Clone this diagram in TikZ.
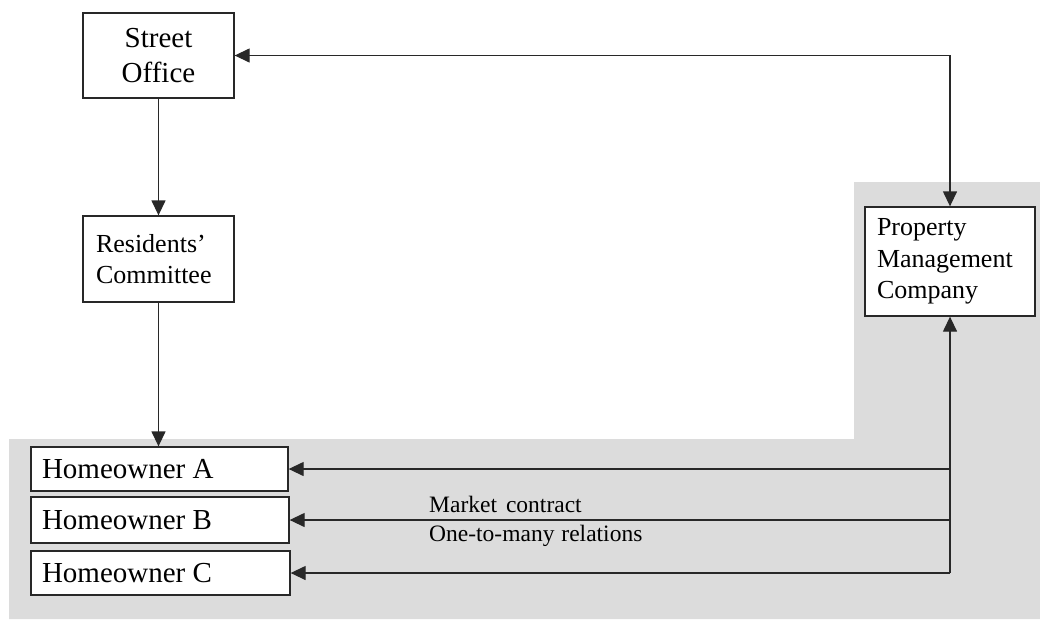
\documentclass[tikz,border=0pt]{standalone}
\usepackage{fontspec}
\setmainfont{Liberation Serif}
\usetikzlibrary{arrows.meta}
\definecolor{bggray}{RGB}{220,220,220}
\definecolor{linecol}{RGB}{40,40,40}
\tikzset{
  box/.style={draw=linecol, line width=1.3pt, fill=white, rectangle, inner ysep=0pt},
  bigtext/.style={font=\fontsize{29}{35}\selectfont},
  midtext/.style={font=\fontsize{26}{31.5}\selectfont},
  labtext/.style={font=\fontsize{23.5}{28}\selectfont, inner sep=0pt},
  conn/.style={draw=linecol, line width=1.3pt, -{Triangle[length=15pt,width=14pt]}},
  conn2/.style={draw=linecol, line width=1.3pt, {Triangle[length=15pt,width=14pt]}-{Triangle[length=15pt,width=14pt]}}
}
\begin{document}
\begin{tikzpicture}[x=1pt,y=-1pt]
\useasboundingbox (0,0) rectangle (1040,619);
% gray background
\fill[bggray] (9,439) -- (854,439) -- (854,182) -- (1040,182) -- (1040,619) -- (9,619) -- cycle;
% nodes
\node[box, bigtext, minimum width=151pt, minimum height=85pt, align=center] (SO) at (158.5,55.5) {Street\\Office};
\node[box, midtext, minimum width=151pt, minimum height=86pt, inner xsep=13pt, text width=125pt, align=flush left] (RC) at (158.5,259) {Residents'\\Committee};
\node[box, midtext, minimum width=170pt, minimum height=109pt, inner xsep=12pt, text width=146pt, align=flush left] (PMC) at (950,261.5) {Property\\Management\\Company};
\node[box, bigtext, minimum width=257pt, minimum height=44pt, inner xsep=11pt, text width=235pt, align=flush left] (HA) at (159.5,469) {Homeowner A};
\node[box, bigtext, minimum width=258pt, minimum height=46pt, inner xsep=11pt, text width=236pt, align=flush left] (HB) at (160,520) {Homeowner B};
\node[box, bigtext, minimum width=259pt, minimum height=44pt, inner xsep=11pt, text width=237pt, align=flush left] (HC) at (160.5,573) {Homeowner C};
% labels
\node[labtext, anchor=base west] (L1) at (429,512) {Market\hspace{9pt}contract};
\node[labtext, anchor=base west] (L2) at (429,541.5) {One-to-many\hspace{7pt}relations};
% connectors
\coordinate (J) at (950,573);
\draw[conn] (SO.south) -- (RC.north -| SO.south);
\draw[conn] (RC.south) -- (HA.north -| RC.south);
\draw[conn2] (SO.east) -| (PMC.north);
\draw[conn] (J) -- (PMC.south);
\draw[conn] (J |- HA.east) -- (HA.east);
\draw[conn] (J |- HB.east) -- (HB.east);
\draw[conn] (J) -- (HC.east);
\end{tikzpicture}
\end{document}
